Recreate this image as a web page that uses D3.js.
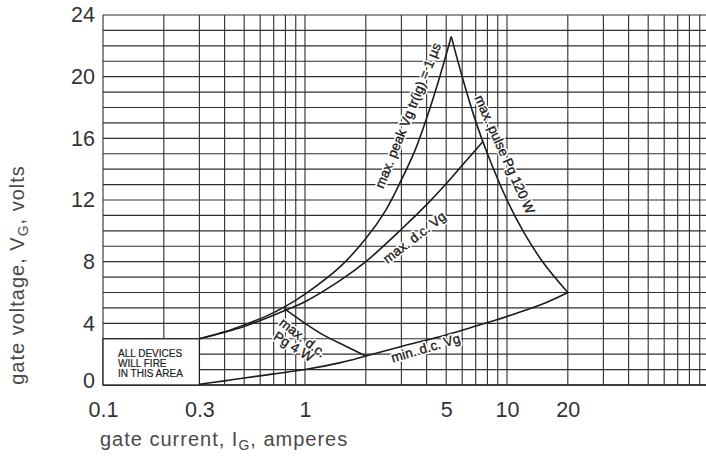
<!DOCTYPE html>
<html>
<head>
<meta charset="utf-8">
<script src="https://cdn.jsdelivr.net/npm/d3@7/dist/d3.min.js"></script>
<style>
  html, body { margin: 0; padding: 0; background: #fff; }
  svg { display: block; font-family: "Liberation Sans", Arial, Helvetica, sans-serif; }
</style>
</head>
<body>
<svg id="chart" width="706" height="461"></svg>
<script>
// ---- data ----
const yTickLabels = [0, 4, 8, 12, 16, 20, 24];
const xTickLabels = [0.1, 0.3, 1, 5, 10, 20];

// max. peak Vg tr(ig) = 1 µs
const peakI = [0.3, 0.4, 0.5, 0.65, 0.8, 1, 1.5, 2, 2.5, 3, 3.5, 4, 4.6, 5.3];
const peakV = [3.0, 3.45, 3.9, 4.5, 5.1, 5.9, 7.7, 9.5, 11.3, 13.3, 15.2, 17.3, 19.8, 22.6];
// max. d.c. Vg
const dcI = [0.3, 0.5, 0.8, 1, 1.5, 2, 3, 4, 5, 6, 7.6];
const dcV = [3.0, 3.8, 4.85, 5.4, 6.8, 8.0, 10.1, 11.7, 13.05, 14.25, 15.8];
// max. pulse Pg 120 W
const pulseI = [5.3, 6, 7, 8, 10, 12, 15, 20];
const pulseV = [22.6, 20.0, 17.1, 15.0, 12.0, 10.0, 8.0, 6.0];
// max. d.c. Pg 4 W
const p4I = [0.79, 1, 1.25, 1.6, 2.0];
const p4V = [4.95, 4.0, 3.2, 2.5, 1.88];
// min. d.c. Vg
const minI = [0.3, 0.4, 0.5, 0.7, 1, 1.5, 2, 3, 5, 7, 10, 15, 20];
const minV = [0.05, 0.27, 0.45, 0.72, 1.0, 1.45, 1.88, 2.5, 3.25, 3.82, 4.45, 5.25, 6.0];

const curveLabels = [
  { text: "max. peak Vg tr(ig) = 1 µs", I: 3.27, V: 17.45, angle: -68 },
  { text: "max. pulse Pg 120 W", I: 9.63, V: 14.93, angle: 65.8 },
  { text: "max. d.c. Vg", I: 3.51, V: 9.52, angle: -37.6 },
  { text: "max. d.c.", I: 0.967, V: 3.02, angle: 38 },
  { text: "Pg 4 W", I: 0.873, V: 2.44, angle: 32 },
  { text: "min. d.c. Vg", I: 3.97, V: 2.33, angle: -16.5 }
];
const boxLines = ["ALL DEVICES", "WILL FIRE", "IN THIS AREA"];
const boxI = [0.1, 0.3];
const boxV = [0, 3];

// ---- scales ----
const svg = d3.select("#chart");
const x = d3.scaleLog().domain([0.1, 100]).range([103, 709]);
const y = d3.scaleLinear().domain([0, 24]).range([385, 15]);

const gridColor = "#2e2e2e";
const g = svg.append("g");

// vertical grid (log decades)
g.append("g").selectAll("line").data(x.ticks()).join("line")
  .attr("x1", d => x(d)).attr("x2", d => x(d))
  .attr("y1", y(0)).attr("y2", y(24))
  .attr("stroke", gridColor).attr("stroke-width", 1.1);

// horizontal grid every 1 V
g.append("g").selectAll("line").data(y.ticks(24)).join("line")
  .attr("x1", x(0.1)).attr("x2", x(100))
  .attr("y1", d => y(d)).attr("y2", d => y(d))
  .attr("stroke", gridColor).attr("stroke-width", 1.1);

// baseline thicker
g.append("line").attr("x1", x(0.1)).attr("x2", x(100))
  .attr("y1", y(0)).attr("y2", y(0)).attr("stroke", "#222").attr("stroke-width", 1.6);

// "ALL DEVICES" box
g.append("rect")
  .attr("x", x(boxI[0])).attr("y", y(boxV[1]))
  .attr("width", x(boxI[1]) - x(boxI[0])).attr("height", y(boxV[0]) - y(boxV[1]))
  .attr("fill", "#fff").attr("stroke", "#222").attr("stroke-width", 1.3);
g.append("g").selectAll("text").data(boxLines).join("text")
  .attr("x", x(boxI[0]) + 15)
  .attr("y", (d, i) => y(boxV[1]) + 18 + i * 10)
  .attr("font-size", 10).attr("fill", "#222")
  .attr("stroke", "#222").attr("stroke-width", 0.2)
  .text(d => d);

// ---- curves ----
const line = d3.line().x(d => x(d[0])).y(d => y(d[1])).curve(d3.curveCatmullRom.alpha(0.5));
const series = [
  [peakI, peakV], [dcI, dcV], [pulseI, pulseV], [p4I, p4V], [minI, minV]
];
g.append("g").selectAll("path").data(series).join("path")
  .attr("d", s => line(s[0].map((v, i) => [v, s[1][i]])))
  .attr("fill", "none").attr("stroke", "#1c1c1c").attr("stroke-width", 1.6)
  .attr("stroke-linejoin", "round");

// curve labels: white halo layer, then text layer
const labelLayer = (sel, halo) => sel.selectAll("text").data(curveLabels).join("text")
  .attr("transform", d => `translate(${x(d.I)},${y(d.V)}) rotate(${d.angle})`)
  .attr("text-anchor", "middle").attr("dominant-baseline", "middle")
  .attr("font-size", 13.5)
  .attr("fill", halo ? "#fff" : "#1c1c1c")
  .attr("stroke", halo ? "#fff" : "#1c1c1c")
  .attr("stroke-width", halo ? 3.5 : 0.35)
  .attr("stroke-linejoin", "round")
  .text(d => d.text);
labelLayer(g.append("g"), true);
labelLayer(g.append("g"), false);

// ---- axes (labels only) ----
const yAxis = d3.axisLeft(y).tickValues(yTickLabels).tickSize(0).tickPadding(8)
  .tickFormat(d3.format("d"));
const ya = svg.append("g").attr("transform", `translate(${x(0.1)},0)`).call(yAxis);
ya.select(".domain").remove();
ya.selectAll("text").attr("font-size", 21.5).attr("fill", "#333")
  .attr("font-family", "'Liberation Sans', Arial, sans-serif");
ya.selectAll(".tick").filter(d => d === 0).select("text").attr("dy", "0.1em");

const xAxis = d3.axisBottom(x).tickValues(xTickLabels).tickSize(0).tickPadding(17)
  .tickFormat(d => String(d));
const xa = svg.append("g").attr("transform", `translate(0,${y(0)})`).call(xAxis);
xa.select(".domain").remove();
xa.selectAll("text").attr("font-size", 21.5).attr("fill", "#333")
  .attr("font-family", "'Liberation Sans', Arial, sans-serif");

// ---- axis titles ----
const xt = svg.append("text").attr("x", 100).attr("y", 446)
  .attr("font-size", 20).attr("letter-spacing", 1).attr("fill", "#4a4a4a");
xt.append("tspan").text("gate current, I");
xt.append("tspan").attr("font-size", 14).attr("dy", 4).text("G");
xt.append("tspan").attr("dy", -4).text(", amperes");

const yt = svg.append("text").attr("transform", "translate(24,275) rotate(-90)")
  .attr("text-anchor", "middle")
  .attr("font-size", 20).attr("letter-spacing", 1).attr("fill", "#4a4a4a");
yt.append("tspan").text("gate voltage, V");
yt.append("tspan").attr("font-size", 14).attr("dy", 4).text("G");
yt.append("tspan").attr("dy", -4).text(", volts");
</script>
</body>
</html>
